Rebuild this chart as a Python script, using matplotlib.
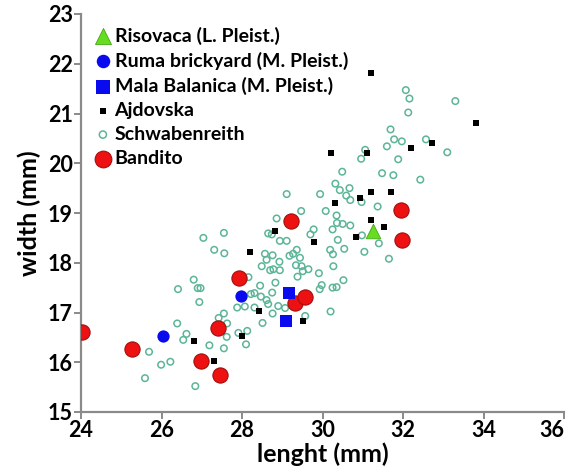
import matplotlib
matplotlib.use("Agg")
import matplotlib.pyplot as plt

# Risovaca (L. Pleist.)
risovaca_len = [31.26]
risovaca_wid = [18.64]

# Ruma brickyard (M. Pleist.)
ruma_len = [26.03, 27.97]
ruma_wid = [16.53, 17.34]

# Mala Balanica (M. Pleist.)
mala_len = [29.18, 29.09]
mala_wid = [17.39, 16.83]

# Ajdovska
ajdovska_len = [26.81, 27.30, 28.00, 28.21, 28.41, 28.81, 29.52, 29.80, 30.21, 30.30,
                30.82, 30.92, 31.11, 31.20, 31.20, 31.53, 31.71, 32.21, 32.71, 33.81, 31.20]
ajdovska_wid = [16.43, 16.03, 16.53, 18.22, 17.03, 18.63, 16.83, 18.42, 20.21, 19.21,
                18.51, 19.31, 20.21, 19.42, 21.81, 18.72, 19.42, 20.31, 20.41, 20.80, 18.86]

# Schwabenreith
schwab_len = [25.59, 26.84, 25.69, 25.99, 26.22, 26.39, 26.62, 26.54, 26.94, 27.19,
              27.55, 27.62, 27.55, 27.42, 27.63, 26.41, 26.80, 26.90, 26.97, 27.04,
              27.55, 27.31, 27.56, 27.88, 28.07, 27.91, 28.13, 28.10, 27.95, 28.16,
              28.45, 28.83, 28.31, 28.47, 28.75, 28.61, 28.65, 28.90, 29.07, 28.76,
              28.51, 28.22, 28.31, 29.57, 30.20, 29.98, 29.93, 30.25, 30.52, 30.35,
              29.11, 29.94, 29.47, 30.08, 28.86, 30.35, 28.65, 28.74, 28.94, 29.11,
              29.70, 29.78, 30.25, 30.38, 29.36, 29.27, 29.44, 29.18, 28.57, 28.76,
              28.61, 28.93, 28.49, 28.70, 28.78, 28.94, 29.48, 29.65, 29.51, 29.91,
              30.19, 30.26, 30.27, 29.38, 29.34, 32.07, 32.16, 33.30, 32.13, 31.69,
              31.78, 31.97, 31.60, 32.57, 33.10, 31.06, 30.96, 31.88, 30.49, 31.48,
              31.76, 32.43, 30.32, 30.43, 30.67, 30.59, 30.69, 30.97, 31.37, 30.36,
              30.50, 30.69, 30.98, 31.40, 31.04, 30.54, 31.65]
schwab_wid = [15.68, 15.52, 16.21, 15.95, 16.01, 16.78, 16.57, 16.45, 17.21, 16.34,
              16.28, 16.51, 16.98, 16.89, 16.78, 17.47, 17.66, 17.49, 17.49, 18.50,
              18.60, 18.26, 18.19, 17.10, 17.12, 16.59, 16.63, 16.36, 17.72, 17.71,
              17.54, 17.60, 17.39, 17.32, 17.40, 17.25, 17.17, 17.13, 17.09, 16.98,
              16.79, 17.37, 17.10, 16.93, 17.02, 17.55, 17.47, 17.50, 17.65, 17.51,
              19.38, 19.38, 19.04, 19.04, 18.89, 18.95, 18.59, 18.57, 18.44, 18.44,
              18.57, 18.67, 18.67, 18.46, 18.26, 18.18, 18.10, 18.14, 18.18, 18.15,
              18.06, 18.02, 17.93, 17.85, 17.87, 17.85, 17.93, 17.87, 17.83, 17.79,
              18.26, 18.17, 17.93, 17.72, 17.95, 21.47, 21.30, 21.25, 21.02, 20.68,
              20.48, 20.44, 20.34, 20.48, 20.22, 20.27, 20.09, 20.08, 19.83, 19.80,
              19.76, 19.67, 19.59, 19.46, 19.50, 19.35, 19.26, 19.22, 19.13, 18.80,
              18.78, 18.75, 18.55, 18.39, 18.22, 18.28, 18.08]

# Bandito
bandito_len = [24.02, 25.27, 26.97, 27.45, 27.40, 27.93, 29.22, 29.31, 29.57, 31.95, 31.98]
bandito_wid = [16.61, 16.27, 16.03, 15.74, 16.68, 17.70, 18.83, 17.20, 17.31, 19.06, 18.45]

x_ticks = [24, 26, 28, 30, 32, 34, 36]
y_ticks = [15, 16, 17, 18, 19, 20, 21, 22, 23]

plt.rcParams['font.family'] = ['Lato', 'DejaVu Sans']
plt.rcParams['font.weight'] = 'bold'

fig = plt.figure(figsize=(5.74, 4.71), dpi=100)
ax = fig.add_axes([81 / 574, 59 / 471, 483 / 574, 398 / 471])

h_schwab = ax.scatter(schwab_len, schwab_wid, s=22, facecolors='none',
                      edgecolors='#5cb598', linewidths=1.1, zorder=2, label='Schwabenreith')
h_ajd = ax.scatter(ajdovska_len, ajdovska_wid, s=16, marker='s', color='black',
                   linewidths=0, zorder=3, label='Ajdovska')
h_band = ax.scatter(bandito_len, bandito_wid, s=120, color='#ee1111',
                    edgecolors='#a01010', linewidths=0.8, zorder=4, label='Bandito')
h_ruma = ax.scatter(ruma_len, ruma_wid, s=78, color='#0a0aee', linewidths=0,
                    zorder=5, label='Ruma brickyard (M. Pleist.)')
h_mala = ax.scatter(mala_len, mala_wid, s=80, marker='s', color='#0a0aee',
                    linewidths=0, zorder=6, label='Mala Balanica (M. Pleist.)')
h_riso = ax.scatter(risovaca_len, risovaca_wid, s=110, marker='^', color='#66dd22',
                    edgecolors='#44aa11', linewidths=0.6, zorder=7,
                    label='Risovaca (L. Pleist.)')

ax.set_xlim(24, 36)
ax.set_ylim(15, 23)
ax.set_xticks(x_ticks)
ax.set_yticks(y_ticks)

for side in ['top', 'right']:
    ax.spines[side].set_visible(False)
for side in ['left', 'bottom']:
    ax.spines[side].set_color('#8a8a8a')
    ax.spines[side].set_linewidth(1.6)
ax.tick_params(axis='both', direction='out', length=5, width=1.4, color='#8a8a8a',
               labelsize=15.5, pad=1)
# keep the last x label inside the figure
ax.get_xticklabels()[-1].set_horizontalalignment('right')

ax.set_xlabel('lenght (mm)', fontsize=18, fontweight='bold', labelpad=1)
ax.set_ylabel('width (mm)', fontsize=18, fontweight='bold', labelpad=5)

handles = [h_riso, h_ruma, h_mala, h_ajd, h_schwab, h_band]
ax.legend(handles=handles, labels=[h.get_label() for h in handles],
          loc='upper left', bbox_to_anchor=(-0.005, 1.003), frameon=False,
          fontsize=14, handletextpad=0.05, labelspacing=0.36, borderaxespad=0.3,
          handlelength=1.1, scatterpoints=1, markerscale=1.1)

fig.savefig('out.png', dpi=100)
